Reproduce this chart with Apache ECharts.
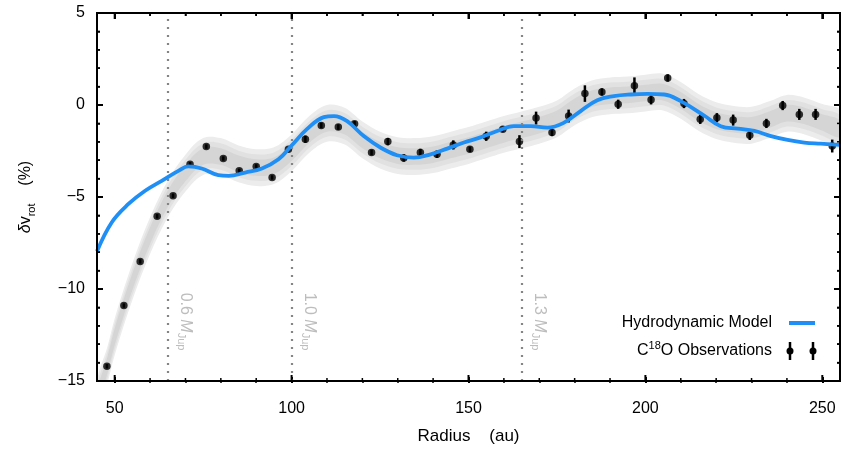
<!DOCTYPE html>
<html><head><meta charset="utf-8">
<script src="https://cdn.jsdelivr.net/npm/echarts@6/dist/echarts.min.js"></script>
<style>html,body{margin:0;padding:0;background:#fff}#c{width:842px;height:450px}</style>
</head><body><div id="c"></div>
<script>
// ---- data ----
const obsRadius = [47.8, 52.6, 57.2, 62.0, 66.5, 71.3, 75.9, 80.7, 85.2, 90.0, 94.5, 99.1, 103.9, 108.4, 113.2, 117.8, 122.6, 127.2, 131.7, 136.4, 141.1, 145.7, 150.4, 155.0, 159.7, 164.4, 169.1, 173.6, 178.3, 182.9, 187.7, 192.3, 196.9, 201.6, 206.3, 210.9, 215.5, 220.2, 224.8, 229.5, 234.2, 238.8, 243.5, 248.1, 252.8];
const obsDv = [-14.2, -10.9, -8.5, -6.05, -4.93, -3.22, -2.26, -2.91, -3.58, -3.34, -3.94, -2.41, -1.86, -1.11, -1.2, -1.02, -2.58, -1.99, -2.88, -2.58, -2.68, -2.17, -2.41, -1.7, -1.32, -1.99, -0.71, -1.49, -0.6, 0.62, 0.71, 0.04, 1.05, 0.28, 1.47, 0.08, -0.78, -0.69, -0.82, -1.65, -1.0, -0.03, -0.51, -0.51, -2.23];
const obsErr = [0.12, 0.12, 0.12, 0.12, 0.12, 0.12, 0.12, 0.12, 0.12, 0.12, 0.12, 0.12, 0.2, 0.15, 0.15, 0.15, 0.15, 0.2, 0.2, 0.2, 0.2, 0.25, 0.15, 0.25, 0.15, 0.35, 0.35, 0.2, 0.35, 0.45, 0.2, 0.25, 0.45, 0.25, 0.2, 0.25, 0.25, 0.25, 0.3, 0.25, 0.25, 0.25, 0.3, 0.3, 0.35];

const modelRadius = [45, 49.2, 53.9, 58.6, 63.3, 68.0, 70.8, 74.6, 79.3, 82.2, 86.9, 91.6, 96.3, 100.0, 104.4, 109.1, 112.0, 115.7, 120.4, 125.1, 129.8, 134.5, 139.3, 144.0, 148.7, 153.4, 158.1, 162.8, 167.6, 172.3, 177.0, 181.7, 186.4, 191.1, 195.9, 200.6, 205.3, 210.0, 216.6, 221.3, 226.1, 230.8, 235.5, 240.2, 244.9, 249.6, 255];
const modelDv = [-7.95, -6.37, -5.38, -4.66, -4.12, -3.58, -3.34, -3.45, -3.81, -3.85, -3.67, -3.45, -2.95, -2.2, -1.3, -0.66, -0.6, -0.88, -1.69, -2.31, -2.73, -2.86, -2.68, -2.37, -2.04, -1.76, -1.41, -1.15, -1.15, -1.23, -0.96, -0.33, 0.26, 0.48, 0.57, 0.6, 0.57, 0.21, -0.57, -1.15, -1.29, -1.41, -1.69, -1.9, -2.04, -2.1, -2.17];

const bandRadius = [45, 48, 50, 55, 60, 65, 70, 75, 80, 85, 90, 95, 100, 105, 110, 115, 120, 125, 130, 135, 140, 145, 150, 155, 160, 165, 170, 175, 180, 185, 190, 195, 200, 205, 210, 215, 220, 225, 230, 235, 240, 245, 250, 255];
const bandCenter = [-16.0, -14.1, -12.6, -9.6, -7.1, -5.1, -3.7, -2.8, -2.8, -3.2, -3.4, -3.3, -2.6, -1.6, -1.0, -1.15, -1.9, -2.45, -2.75, -2.8, -2.7, -2.45, -2.2, -1.9, -1.6, -1.35, -1.1, -0.75, -0.1, 0.35, 0.5, 0.55, 0.65, 0.7, 0.25, -0.4, -0.85, -1.05, -1.1, -0.8, -0.45, -0.6, -0.95, -1.3];
const bandHalfWidths = [1.0, 0.72, 0.45];

const planetRadius = [65, 100, 165];
const planetMass = ['0.6', '1.0', '1.3'];

// ticks
const xTickValues = [50, 60, 70, 80, 90, 100, 110, 120, 130, 140, 150, 160, 170, 180, 190, 200, 210, 220, 230, 240, 250];
const xTickLabels = [50, 100, 150, 200, 250];
const yTickValues = [-15, -14, -13, -12, -11, -10, -9, -8, -7, -6, -5, -4, -3, -2, -1, 0, 1, 2, 3, 4, 5];
const yTickLabels = [5, 0, -5, -10, -15];

// ---- chart ----
const chart = echarts.init(document.getElementById('c'), null, {renderer: 'canvas'});
const FONT = '"Liberation Sans", Arial, Helvetica, sans-serif';
const bandFill = ['#ececec', '#e1e1e1', '#d5d5d5'];
const GRID = {left: 97, right: 2, top: 13, bottom: 67};
const X_MIN = 45, X_MAX = 255, Y_MIN = -15, Y_MAX = 5;
const mainGrid = Object.assign({containLabel: false, show: true, borderColor: '#000', borderWidth: 2,
                                backgroundColor: 'transparent'}, GRID);

const series = [];
series.push({
  type: 'custom', silent: true, z: 1,
  data: bandHalfWidths.map((h, k) => [bandRadius[0], bandCenter[0], h, k]),
  encode: {x: 0, y: 1},
  renderItem: (params, api) => {
    const h = api.value(2), k = api.value(3);
    const up = bandRadius.map((r, i) => api.coord([r, bandCenter[i] + h]));
    const lo = bandRadius.map((r, i) => api.coord([r, bandCenter[i] - h])).reverse();
    const cs = params.coordSys;
    return {
      type: 'polygon',
      shape: {points: up.concat(lo), smooth: 0.35},
      style: {fill: bandFill[k]},
      clipPath: {type: 'rect', shape: {x: cs.x, y: cs.y, width: cs.width, height: cs.height - 1}}
    };
  }
});
series.push({
  type: 'line', data: [], z: 2, silent: true,
  markLine: {
    silent: true, symbol: 'none', animation: false,
    label: {show: false},
    lineStyle: {color: '#858585', type: [2, 6], width: 2.2},
    data: planetRadius.map(r => ({xAxis: r}))
  }
});
series.push({
  type: 'custom', z: 3, silent: true,
  data: obsRadius.map((r, i) => [r, obsDv[i] - obsErr[i], obsDv[i] + obsErr[i]]),
  encode: {x: 0, y: [1, 2]},
  renderItem: (params, api) => {
    const lo = api.coord([api.value(0), api.value(1)]);
    const hi = api.coord([api.value(0), api.value(2)]);
    return {type: 'line', shape: {x1: lo[0], y1: lo[1], x2: hi[0], y2: hi[1]},
            style: {stroke: '#000', lineWidth: 2.5}};
  }
});
series.push({
  type: 'scatter', z: 3, symbol: 'circle', symbolSize: 7.5,
  itemStyle: {color: '#000'},
  data: obsRadius.map((r, i) => [r, obsDv[i]])
});
series.push({
  type: 'line', z: 4, smooth: 0.4, symbol: 'none',
  lineStyle: {color: '#1f8ff5', width: 3.8},
  data: modelRadius.map((r, i) => [r, modelDv[i]])
});

const xMain = {
  gridIndex: 0, type: 'value', min: X_MIN, max: X_MAX, position: 'bottom', splitLine: {show: false},
  axisLine: {show: true, onZero: false, lineStyle: {color: '#000', width: 2}},
  axisTick: {show: false}, axisLabel: {show: false},
  name: 'Radius    (au)', nameLocation: 'middle', nameGap: 47,
  nameTextStyle: {color: '#000', fontSize: 17, fontFamily: FONT}
};
function yAx(pos) {
  return {
    gridIndex: 0, type: 'value', min: Y_MIN, max: Y_MAX, interval: 5, position: pos,
    splitLine: {show: false},
    axisLine: {show: true, onZero: false, lineStyle: {color: '#000', width: 2}},
    axisTick: {show: true, inside: true, length: 6, lineStyle: {color: '#000', width: 2}},
    minorTick: {show: true, splitNumber: 5, length: 3, lineStyle: {color: '#000', width: 1.5}},
    axisLabel: {show: false}
  };
}
const yMain = yAx('left');
yMain.axisLabel = {show: true, color: '#000', fontSize: 16, fontFamily: FONT, margin: 12,
                   formatter: v => yTickLabels.indexOf(v) >= 0 ? String(v).replace('-', '\u2212') : ''};
yMain.name = '{d|\u03b4}{v|v}{s|rot}{v|    (%)}';
yMain.nameLocation = 'middle';
yMain.nameGap = 60;
yMain.nameRotate = 90;
yMain.nameTextStyle = {color: '#000', fontFamily: FONT, fontSize: 16,
  rich: {
    d: {fontSize: 16, fontStyle: 'italic', fontFamily: FONT, lineHeight: 22, color: '#000'},
    v: {fontSize: 16, fontFamily: FONT, lineHeight: 22, color: '#000'},
    s: {fontSize: 11, fontFamily: FONT, verticalAlign: 'bottom', lineHeight: 14, color: '#000'}
  }};
const yRight = yAx('right');

chart.setOption({
  animation: false,
  backgroundColor: '#fff',
  grid: [mainGrid],
  xAxis: [xMain],
  yAxis: [yMain, yRight],
  series: series
});

// tick grid: category axes whose first/last categories sit exactly on 50 and 250 au
const x50 = chart.convertToPixel({xAxisIndex: 0, yAxisIndex: 0}, [xTickValues[0], Y_MIN])[0];
const x250 = chart.convertToPixel({xAxisIndex: 0, yAxisIndex: 0}, [xTickValues[xTickValues.length - 1], Y_MIN])[0];
const tickGrid = {left: x50, width: x250 - x50, top: GRID.top, bottom: GRID.bottom, containLabel: false};
function tickX(pos, major) {
  return {
    gridIndex: 1, type: 'category', data: xTickValues.map(String), boundaryGap: false, position: pos,
    axisLine: {show: false, onZero: false}, splitLine: {show: false},
    axisTick: {show: true, inside: true, interval: major ? 4 : 0, length: major ? 6 : 3,
               lineStyle: {color: '#000', width: major ? 2 : 1.5}},
    axisLabel: (major && pos === 'bottom')
      ? {show: true, interval: 0, color: '#000', fontSize: 16, fontFamily: FONT, margin: 18,
         formatter: v => xTickLabels.indexOf(Number(v)) >= 0 ? v : ''}
      : {show: false}
  };
}
chart.setOption({
  grid: [mainGrid, tickGrid],
  xAxis: [xMain, tickX('bottom', true), tickX('bottom', false), tickX('top', true), tickX('top', false)],
  yAxis: [yMain, yRight, {gridIndex: 1, type: 'value', min: Y_MIN, max: Y_MAX, show: false}]
});

const graphics = [];
// frame ticks also drawn explicitly through the axis scales (coincide with the axis ticks)
const pLB = chart.convertToPixel({xAxisIndex: 0, yAxisIndex: 0}, [X_MIN, Y_MIN]);
const pRT = chart.convertToPixel({xAxisIndex: 0, yAxisIndex: 0}, [X_MAX, Y_MAX]);
const fL = pLB[0], fB = pLB[1], fR = pRT[0], fT = pRT[1];
function seg(x1, y1, x2, y2, w) {
  graphics.push({type: 'line', silent: true, z: 20,
                 shape: {x1: x1, y1: y1, x2: x2, y2: y2},
                 style: {stroke: '#000', lineWidth: w}});
}
xTickValues.forEach(v => {
  const px = chart.convertToPixel({xAxisIndex: 0, yAxisIndex: 0}, [v, Y_MIN])[0];
  const major = xTickLabels.indexOf(v) >= 0;
  const L = major ? 6 : 3, w = major ? 2 : 1.5;
  seg(px, fB, px, fB - L, w);
  seg(px, fT, px, fT + L, w);
});
yTickValues.forEach(v => {
  const py = chart.convertToPixel({xAxisIndex: 0, yAxisIndex: 0}, [X_MIN, v])[1];
  const major = yTickLabels.indexOf(v) >= 0;
  const L = major ? 6 : 3, w = major ? 2 : 1.5;
  seg(fL, py, fL + L, py, w);
  seg(fR, py, fR - L, py, w);
});
graphics.push({type: 'rect', silent: true, z: 20,
  shape: {x: fL, y: fT, width: fR - fL, height: fB - fT},
  style: {fill: 'none', stroke: '#000', lineWidth: 2}});

planetRadius.forEach((r, i) => {
  const p = chart.convertToPixel({xAxisIndex: 0, yAxisIndex: 0}, [r, -10.2]);
  graphics.push({
    type: 'text', x: p[0] + 18, y: p[1], rotation: -Math.PI / 2, silent: true, z: 10,
    style: {
      text: '{n|' + planetMass[i] + ' }{m|M}{s|Jup}',
      align: 'left', verticalAlign: 'middle',
      rich: {
        n: {fontSize: 16, fontFamily: FONT, fill: '#bdbdbd', lineHeight: 20},
        m: {fontSize: 16, fontFamily: FONT, fontStyle: 'italic', fill: '#bdbdbd', lineHeight: 20},
        s: {fontSize: 11, fontFamily: FONT, fill: '#bdbdbd', verticalAlign: 'bottom', lineHeight: 12}
      }
    }
  });
});
graphics.push({type: 'text', x: 772, y: 323, silent: true, z: 10,
  style: {text: 'Hydrodynamic Model', align: 'right', verticalAlign: 'middle', fontSize: 16, fontFamily: FONT, fill: '#000'}});
graphics.push({type: 'line', silent: true, z: 10, shape: {x1: 789, y1: 323, x2: 815, y2: 323},
  style: {stroke: '#1f8ff5', lineWidth: 4}});
graphics.push({type: 'text', x: 772, y: 351, silent: true, z: 10,
  style: {text: '{a|C}{s|18}{a|O Observations}', align: 'right', verticalAlign: 'middle',
    rich: {
      a: {fontSize: 16, fontFamily: FONT, fill: '#000', lineHeight: 22},
      s: {fontSize: 11, fontFamily: FONT, fill: '#000', verticalAlign: 'top', lineHeight: 14}
    }}});
[790, 813].forEach(x => {
  graphics.push({type: 'line', silent: true, z: 10, shape: {x1: x, y1: 342, x2: x, y2: 360},
    style: {stroke: '#000', lineWidth: 2.5}});
  graphics.push({type: 'circle', silent: true, z: 10, shape: {cx: x, cy: 351, r: 3.5},
    style: {fill: '#000'}});
});
chart.setOption({graphic: graphics});
</script>
</body></html>
